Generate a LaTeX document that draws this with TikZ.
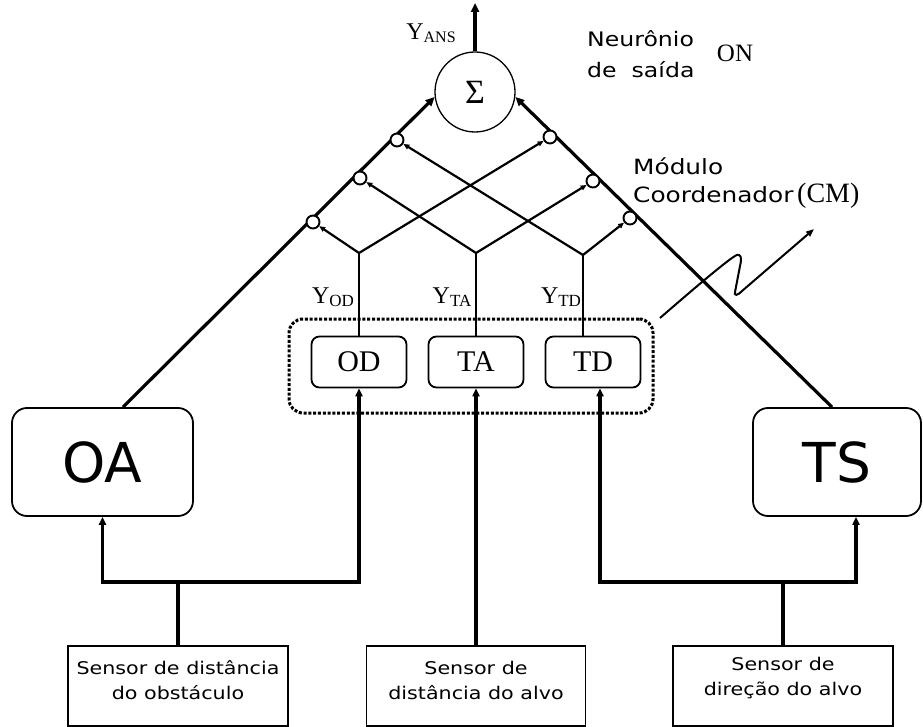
\documentclass[tikz,border=0pt]{standalone}
\usepackage{fontspec}
\setmainfont{Liberation Serif}
\newfontfamily\sansw[FakeStretch=1.18]{DejaVu Sans}
\newfontfamily\sansn{DejaVu Sans}
\usetikzlibrary{arrows.meta,calc}
\newcommand\myY[2][17]{{\fontsize{24}{24}\selectfont Y}\raisebox{-3pt}{\fontsize{#1}{#1}\selectfont #2}}
\begin{document}
\begin{tikzpicture}[x=1pt,y=-1pt,
  thickln/.style={line width=3.2pt},
  thkarr/.style={line width=3.2pt,-{Triangle[length=9pt,width=8pt]}},
  uparr/.style={line width=3.2pt,-{Triangle[length=8pt,width=7pt]}},
  netarr/.style={line width=2.2pt,-{Triangle[length=6pt,width=5pt]}},
  thinln/.style={line width=1.5pt},
  inh/.style={circle,draw,line width=1.9pt,fill=white,minimum size=13pt,inner sep=0pt},
  bigbox/.style={draw,line width=1.8pt,rounded corners=15pt,minimum height=108pt,inner sep=0pt,font=\sansn\fontsize{55}{55}\selectfont},
  midbox/.style={draw,line width=1.8pt,rounded corners=8pt,minimum width=95pt,minimum height=51pt,inner sep=0pt,font=\fontsize{30}{30}\selectfont},
  sensbox/.style={draw,line width=1.8pt,minimum height=80pt,inner sep=0pt},
  senstext/.style={align=center,inner sep=0pt,font=\sansw\fontsize{17.5}{25}\selectfont},
  lbl/.style={inner sep=0pt}
]
\useasboundingbox (0,0) rectangle (923,727);

% output neuron
\node[circle,draw,line width=1.3pt,minimum size=80pt,inner sep=0pt,font=\fontsize{34}{34}\selectfont] (sum) at (475,92) {Σ};
\coordinate (out) at (475,3);
\draw[thkarr] (sum) -- (out);
\node[lbl] (yans) at (431,33) {\myY[16]{ANS}};
\node[lbl,anchor=base west,font=\sansw\fontsize{20}{20}\selectfont] (neu1) at (587,47) {Neurônio};
\node[lbl,anchor=base west,font=\sansw\fontsize{20}{20}\selectfont] (neu2) at (587,78) {de\ \ saída};
\node[lbl,font=\fontsize{25}{25}\selectfont] (on) at (735,53) {ON};

% coordinator label
\node[lbl,anchor=base west,font=\sansw\fontsize{21}{21}\selectfont] (mod1) at (633,175) {Módulo};
\node[lbl,anchor=base west,font=\sansw\fontsize{21}{21}\selectfont] (mod2) at (633,203) {Coordenador};
\node[lbl,anchor=base west,font=\fontsize{28}{28}\selectfont] (cm) at (797,203) {(CM)};

% boxes
\node[bigbox,minimum width=181pt] (OA) at (102.5,462) {OA};
\node[bigbox,minimum width=168pt] (TS) at (837,462) {TS};
\node[draw,line width=3pt,dash pattern=on 3pt off 1.8pt,rounded corners=14pt,minimum width=364pt,minimum height=94pt] (CMbox) at (471,366) {};
\node[midbox] (OD) at (359,362) {OD};
\node[midbox] (TA) at (476,362) {TA};
\node[midbox] (TD) at (593,362) {TD};

\node[sensbox,minimum width=220pt] (S1) at (178,686) {};
\node[sensbox,minimum width=219pt] (S2) at (476,686) {};
\node[sensbox,minimum width=220pt] (S3) at (783,686) {};
\node[senstext] (S1t) at (178,680) {Sensor de distância\\do obstáculo};
\node[senstext] (S2t) at (476,680) {Sensor de\\distância do alvo};
\node[senstext] (S3t) at (783,678) {Sensor de\\direção do alvo};

% main thick lines to the output neuron
\draw[thkarr] ([xshift=20.5pt]OA.north) -- (sum.187);
\draw[thkarr] ([xshift=-5pt]TS.north) -- (sum.353);

% branch points
\coordinate (bOD) at (359,253);
\coordinate (bTA) at (476,253);
\coordinate (bTD) at (583,255);
\draw[thinln] (OD.north) -- (bOD);
\draw[thinln] (TA.north) -- (bTA);
\draw[thinln] (bTD |- TD.north) -- (bTD);

% inhibitory synapses
\node[inh] (L1) at (313,222) {};
\node[inh] (L2) at (360,178) {};
\node[inh] (L3) at (397,140) {};
\node[inh] (R1) at (550,137) {};
\node[inh] (R2) at (593,181) {};
\node[inh] (R3) at (630,218) {};

\draw[netarr] (bOD) -- (L1);
\draw[netarr] (bOD) -- (R1);
\draw[netarr] (bTA) -- (L2);
\draw[netarr] (bTA) -- (R2);
\draw[netarr] (bTD) -- (L3);
\draw[netarr] (bTD) -- (R3);

% output labels
\node[lbl] (yod) at (333,297) {\myY{OD}};
\node[lbl] (yta) at (452,297) {\myY{TA}};
\node[lbl] (ytd) at (561,297) {\myY{TD}};

% zigzag pointer
\coordinate (w0) at (660,318);
\coordinate (w1) at (814,229);
\draw[line width=2pt,-{Triangle[length=8pt,width=6pt]},line join=round]
  (w0) .. controls (690,292) and (725,262) .. (735,256)
  .. controls (741,252) and (742,258) .. (740,266)
  -- (735,292) .. controls (734,296) and (737,296) .. (742,291) -- (w1);

% sensor connections
\coordinate (j1) at (178,582);
\coordinate (j3) at (783,582);
\draw[thickln] (S1.north) -- (j1);
\draw[uparr] (j1) -| (OA.south);
\draw[uparr] (j1) -| (OD.south);
\draw[uparr] (S2.north) -- (TA.south);
\draw[thickln] (S3.north) -- (j3);
\draw[uparr] (j3) -| ([xshift=7pt]TD.south);
\draw[uparr] (j3) -| ([xshift=19pt]TS.south);
\end{tikzpicture}
\end{document}
